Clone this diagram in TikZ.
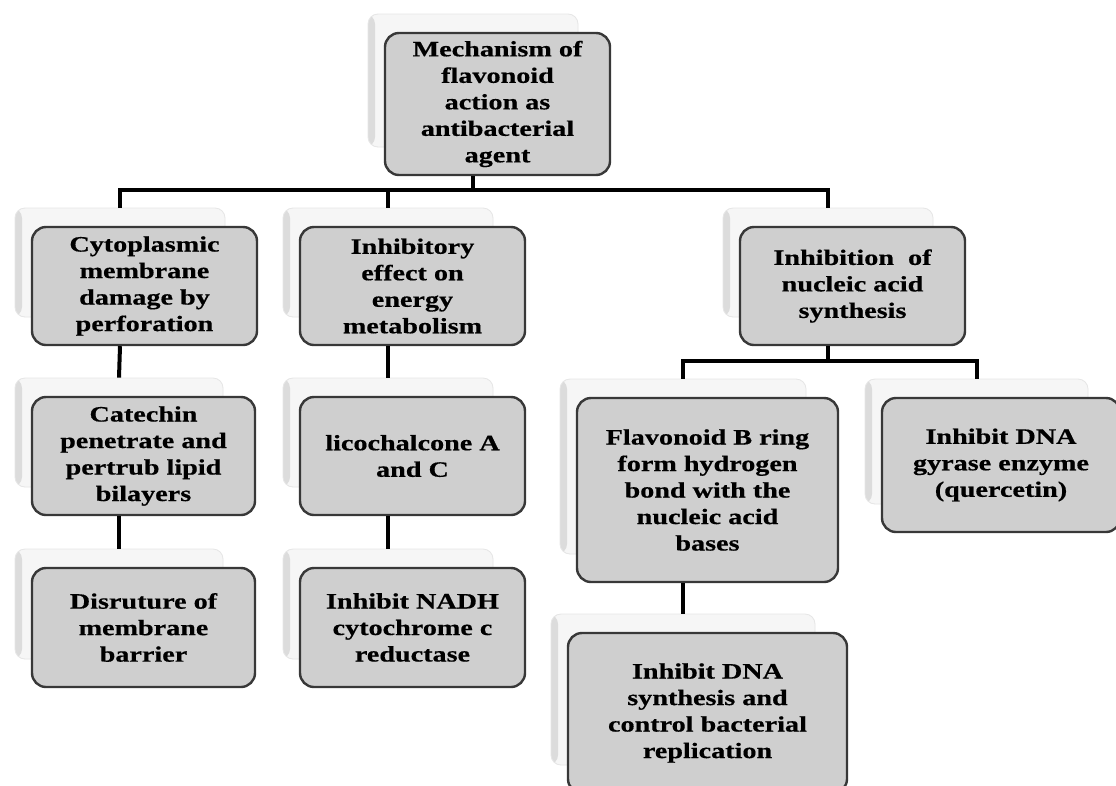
\documentclass[tikz,border=0pt]{standalone}
\usepackage{fontspec}
\newfontfamily\boxfont{Liberation Serif}[FakeStretch=1.28,FakeBold=0.5]
\definecolor{frame}{HTML}{383838}
\definecolor{boxfill}{HTML}{CFCFCF}
\definecolor{backfill}{HTML}{F6F6F6}
\definecolor{backedge}{HTML}{E6E6E6}
\definecolor{backstrip}{HTML}{DCDCDC}
\tikzset{
  front/.style={draw=frame, line width=2.4pt, fill=boxfill, rounded corners=14pt,
    align=center, inner sep=0pt, text=black,
    font=\boxfont\bfseries\fontsize{22}{26.5}\selectfont},
  back/.style={fill=backfill, draw=backedge, line width=0.8pt, rounded corners=10pt, inner sep=0pt,
    path picture={\fill[backstrip] (path picture bounding box.north west) rectangle ([xshift=7pt]path picture bounding box.south west);}},
  conn/.style={line width=4pt, draw=black},
}
\newcommand\mkback[5]{%
  \node[back, minimum width=#4pt-15pt, minimum height=#5pt-9pt] (#1B) at (#2-24.5,#3-23.5) {};}
\newcommand\mkfront[6]{%
  \node[front, minimum width=#4pt, minimum height=#5pt] (#1) at (#2,#3) {#6};}
\begin{document}
\begin{tikzpicture}[x=1pt,y=-1pt]
\useasboundingbox (0,0) rectangle (1116,785);
\fill[white] (0,0) rectangle (1116,785);
% back cards
\mkback{title}{497.5}{104}{225}{142}
\mkback{cyto}{144.5}{286}{225}{118}
\mkback{inhib}{412.5}{286}{225}{118}
\mkback{nucl}{852.5}{286}{225}{118}
\mkback{cat}{143.5}{456}{223}{118}
\mkback{lico}{412.5}{456}{225}{118}
\mkback{disr}{143.5}{627.5}{223}{119}
\mkback{nadh}{412.5}{627.5}{225}{119}
\mkback{flav}{707.5}{490}{261}{184}
\mkback{gyr}{1001}{465}{238}{134}
\mkback{dna}{707.5}{713}{279}{160}
% front cards
\mkfront{title}{497.5}{104}{225}{142}{Mechanism of\\flavonoid\\action as\\antibacterial\\agent}
\mkfront{cyto}{144.5}{286}{225}{118}{Cytoplasmic\\membrane\\damage by\\perforation}
\mkfront{inhib}{412.5}{286}{225}{118}{Inhibitory\\effect on\\energy\\metabolism}
\mkfront{nucl}{852.5}{286}{225}{118}{Inhibition~ of\\nucleic acid\\synthesis}
\mkfront{cat}{143.5}{456}{223}{118}{Catechin\\penetrate and\\pertrub lipid\\bilayers}
\mkfront{lico}{412.5}{456}{225}{118}{licochalcone A\\and C}
\mkfront{disr}{143.5}{627.5}{223}{119}{Disruture of\\membrane\\barrier}
\mkfront{nadh}{412.5}{627.5}{225}{119}{Inhibit NADH\\cytochrome c\\reductase}
\mkfront{flav}{707.5}{490}{261}{184}{Flavonoid B ring\\form hydrogen\\bond with the\\nucleic acid\\bases}
\mkfront{gyr}{1001}{465}{238}{134}{Inhibit DNA\\gyrase enzyme\\(quercetin)}
\mkfront{dna}{707.5}{713}{279}{160}{Inhibit DNA\\synthesis and\\control bacterial\\replication}
% buses
\coordinate (bus1) at (0,190);
\coordinate (bus2) at (0,361);
% connectors
\draw[conn] (titleB.center |- title.south) -- (titleB.center |- bus1);
\draw[conn] (cytoB.north) -- (cytoB.north |- bus1) -- (nuclB.north |- bus1) -- (nuclB.north);
\draw[conn] (inhibB.north) -- (inhibB.north |- bus1);
\draw[conn] (cytoB.center |- cyto.south) -- (catB.north);
\draw[conn] (catB.center |- cat.south) -- (disrB.north);
\draw[conn] (inhibB.center |- inhib.south) -- (licoB.north);
\draw[conn] (licoB.center |- lico.south) -- (nadhB.north);
\draw[conn] (nuclB.center |- nucl.south) -- (nuclB.center |- bus2);
\draw[conn] (flavB.north) -- (flavB.north |- bus2) -- (gyrB.north |- bus2) -- (gyrB.north);
\draw[conn] (flavB.center |- flav.south) -- (dnaB.north);
\end{tikzpicture}
\end{document}
